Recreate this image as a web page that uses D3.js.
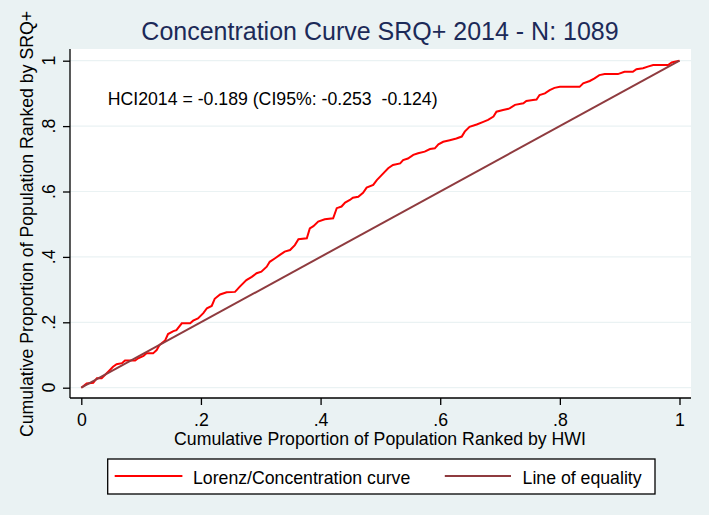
<!DOCTYPE html>
<html>
<head>
<meta charset="utf-8">
<script src="https://cdnjs.cloudflare.com/ajax/libs/d3/7.8.5/d3.min.js"></script>
<style>
  body { margin: 0; background: #eaf2f3; }
  text { font-family: "Liberation Sans", Arial, sans-serif; white-space: pre; }
</style>
</head>
<body>
<div id="chart"></div>
<script>
// Lorenz / concentration curve
const lorenzX = [0, .009, .02, .026, .034, .045, .053, .059, .068, .073, .09, .095, .104, .109, .12, .126,
  .131, .14, .145, .154, .159, .168, .182, .187, .195, .204, .21, .218, .223, .232, .243, .257, .265, .276,
  .285, .293, .301, .31, .315, .324, .332, .34, .349, .357, .363, .377, .382, .388, .396, .407, .421, .427,
  .435, .441, .449, .454, .463, .471, .477, .488, .494, .502, .513, .521, .533, .538, .546, .555, .563, .574,
  .583, .591, .597, .605, .616, .627, .636, .641, .649, .661, .672, .68, .689, .694, .705, .716, .725, .739,
  .744, .755, .761, .766, .775, .783, .791, .8, .833, .839, .85, .858, .866, .875, .897, .908, .922, .928,
  .939, .947, .956, .981, .987, .992, 1];
const lorenzY = [0, .013, .015, .029, .029, .049, .064, .072, .075, .083, .083, .09, .097, .105, .105, .115,
  .131, .144, .164, .173, .176, .197, .197, .205, .212, .228, .243, .25, .272, .285, .292, .293, .309, .329,
  .339, .35, .355, .37, .385, .396, .406, .416, .421, .436, .454, .457, .487, .494, .508, .515, .518, .549,
  .554, .566, .574, .581, .584, .596, .612, .62, .635, .65, .671, .681, .686, .696, .701, .712, .717, .722,
  .73, .732, .744, .752, .757, .762, .768, .783, .798, .805, .813, .819, .829, .844, .849, .854, .865, .87,
  .877, .88, .881, .895, .9, .91, .917, .92, .92, .931, .938, .946, .956, .959, .959, .966, .966, .974,
  .977, .982, .987, .987, .995, .997, 1];
const equalityX = [0, 1];
const equalityY = [0, 1];

const xTicks = [0, .2, .4, .6, .8, 1];
const yTicks = [0, .2, .4, .6, .8, 1];
const tickLabels = ["0", ".2", ".4", ".6", ".8", "1"];

const titleText = "Concentration Curve SRQ+ 2014 - N: 1089";
const noteText = "HCI2014 = -0.189 (CI95%: -0.253  -0.124)";
const xTitle = "Cumulative Proportion of Population Ranked by HWI";
const yTitle = "Cumulative Proportion of Population Ranked by SRQ+";
const legendLabels = ["Lorenz/Concentration curve", "Line of equality"];

const W = 709, H = 515;
const plot = { left: 70, right: 691, top: 49, bottom: 398 };
const red = "#ff0000", brown = "#8f3b3f";
const fs = 17.7;

const svg = d3.select("#chart").append("svg")
  .attr("width", W).attr("height", H);

svg.append("rect").attr("width", W).attr("height", H).attr("fill", "#eaf2f3");
svg.append("rect")
  .attr("x", plot.left).attr("y", plot.top)
  .attr("width", plot.right - plot.left).attr("height", plot.bottom - plot.top)
  .attr("fill", "#ffffff");

const x = d3.scaleLinear().domain([0, 1]).range([81.3, 679.5]);
const y = d3.scaleLinear().domain([0, 1]).range([387.7, 60.7]);

// gridlines
svg.append("g").selectAll("line").data(yTicks).enter().append("line")
  .attr("x1", plot.left).attr("x2", plot.right)
  .attr("y1", d => y(d)).attr("y2", d => y(d))
  .attr("stroke", "#eaf2f3").attr("stroke-width", 1.2);

// x axis
const xAxis = svg.append("g")
  .attr("transform", "translate(0," + plot.bottom + ")")
  .call(d3.axisBottom(x).tickValues(xTicks).tickSize(7).tickPadding(5)
    .tickFormat((d, i) => tickLabels[i]));
xAxis.select(".domain").attr("d", "M" + plot.left + ",0H" + plot.right).attr("stroke", "#000").attr("stroke-width", 1.3);
xAxis.selectAll(".tick line").attr("stroke", "#000").attr("stroke-width", 1.3);
xAxis.selectAll(".tick text").attr("font-size", fs).attr("fill", "#000")
  .attr("font-family", "Liberation Sans, Arial, sans-serif").attr("dy", "0.92em");

// y axis with rotated labels
const yAxis = svg.append("g")
  .attr("transform", "translate(" + plot.left + ",0)")
  .call(d3.axisLeft(y).tickValues(yTicks).tickSize(7).tickFormat(""));
yAxis.select(".domain").attr("d", "M0," + plot.top + "V" + plot.bottom).attr("stroke", "#000").attr("stroke-width", 1.3);
yAxis.selectAll(".tick line").attr("stroke", "#000").attr("stroke-width", 1.3);

svg.append("g").selectAll("text").data(yTicks).enter().append("text")
  .attr("transform", d => "translate(54.5," + y(d) + ") rotate(-90)")
  .attr("text-anchor", "middle")
  .attr("font-size", fs)
  .text((d, i) => tickLabels[i]);

// curves
const line = d3.line().x(d => x(d[0])).y(d => y(d[1]));

svg.append("path")
  .datum(d3.zip(lorenzX, lorenzY))
  .attr("d", line)
  .attr("fill", "none").attr("stroke", red).attr("stroke-width", 2)
  .attr("stroke-linejoin", "miter");

svg.append("path")
  .datum(d3.zip(equalityX, equalityY))
  .attr("d", line)
  .attr("fill", "none").attr("stroke", brown).attr("stroke-width", 2);

// texts
svg.append("text")
  .attr("x", 380).attr("y", 40)
  .attr("text-anchor", "middle")
  .attr("font-size", 25).attr("fill", "#1c2a58")
  .text(titleText);

svg.append("text")
  .attr("x", 107.7).attr("y", 105)
  .attr("font-size", fs).attr("fill", "#000")
  .text(noteText);

svg.append("text")
  .attr("x", 380).attr("y", 445)
  .attr("text-anchor", "middle")
  .attr("font-size", fs).attr("fill", "#000")
  .text(xTitle);

svg.append("text")
  .attr("transform", "translate(33,224) rotate(-90)")
  .attr("text-anchor", "middle")
  .attr("font-size", fs).attr("fill", "#000")
  .text(yTitle);

// legend
const legend = svg.append("g");
legend.append("rect")
  .attr("x", 107.7).attr("y", 459)
  .attr("width", 655 - 107.7).attr("height", 35)
  .attr("fill", "#fff").attr("stroke", "#000").attr("stroke-width", 1.3);

const legendItems = [
  { x1: 114.7, x2: 182.4, tx: 193, color: red },
  { x1: 444.8, x2: 511, tx: 522.6, color: brown }
];
legendItems.forEach(function (d, i) {
  legend.append("line")
    .attr("x1", d.x1).attr("x2", d.x2).attr("y1", 476).attr("y2", 476)
    .attr("stroke", d.color).attr("stroke-width", 2);
  legend.append("text")
    .attr("x", d.tx).attr("y", 483.5)
    .attr("font-size", fs).attr("fill", "#000")
    .text(legendLabels[i]);
});
</script>
</body>
</html>
